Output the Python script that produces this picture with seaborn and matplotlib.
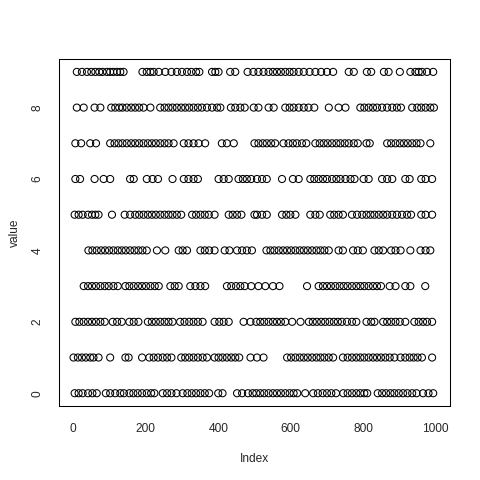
import pandas as pd
import matplotlib
matplotlib.use("Agg")
import matplotlib.pyplot as plt
import seaborn as sns

# index positions of the points on each value level
idx_9 = [10, 24, 38, 50, 61, 72, 81, 93, 102, 111, 121, 130, 139, 191, 203, 213, 222, 236, 254, 271, 286,
         300, 314, 326, 339, 348, 383, 392, 401, 433, 447, 481, 497, 511, 525, 539, 551, 562, 573, 585, 597,
         608, 622, 636, 652, 668, 684, 700, 717, 760, 774, 810, 822, 857, 870, 901, 930, 944, 953, 962, 976, 993]
idx_8 = [10, 29, 59, 75, 105, 116, 127, 136, 148, 160, 171, 182, 194, 213, 240, 252, 263, 274, 286, 298, 309,
         320, 332, 344, 355, 369, 383, 397, 406, 435, 447, 461, 473, 498, 511, 539, 553, 585, 597, 608, 622, 636,
         649, 665, 705, 732, 751, 792, 803, 815, 827, 838, 852, 866, 880, 893, 904, 935, 949, 960, 972, 985, 995]
idx_7 = [6, 22, 47, 63, 102, 114, 125, 136, 148, 160, 171, 182, 194, 206, 217, 228, 240, 252, 263, 277, 305,
         318, 332, 346, 364, 410, 424, 443, 500, 511, 523, 534, 546, 557, 580, 594, 606, 617, 631, 643, 668, 680,
         691, 702, 714, 726, 737, 749, 760, 774, 785, 809, 818, 866, 877, 889, 901, 912, 923, 935, 947, 958, 985]
idx_6 = [6, 19, 59, 84, 102, 157, 167, 203, 219, 234, 274, 305, 318, 332, 344, 401, 415, 429, 456, 468, 479,
         491, 507, 521, 534, 576, 606, 622, 654, 665, 677, 689, 700, 714, 726, 737, 751, 765, 776, 801, 815, 852,
         866, 880, 916, 928, 960, 972, 990]
idx_5 = [4, 15, 26, 41, 52, 61, 70, 107, 142, 157, 171, 182, 194, 206, 217, 228, 240, 252, 263, 274, 286, 298,
         328, 339, 351, 363, 374, 390, 429, 440, 452, 464, 500, 507, 521, 534, 576, 588, 599, 613, 654, 668, 680,
         709, 720, 732, 744, 769, 783, 797, 809, 820, 831, 843, 855, 866, 880, 893, 907, 921, 932, 960, 972, 990]
idx_4 = [42, 53, 65, 77, 88, 99, 111, 123, 134, 145, 157, 169, 180, 191, 203, 231, 254, 291, 302, 314, 351,
         363, 375, 390, 418, 431, 452, 466, 479, 493, 533, 544, 555, 567, 579, 590, 601, 613, 625, 636, 647, 659,
         671, 682, 693, 705, 732, 744, 772, 785, 799, 831, 843, 855, 877, 889, 903, 930, 958, 972, 985]
idx_3 = [29, 41, 52, 63, 75, 87, 98, 111, 123, 144, 155, 167, 179, 190, 201, 213, 225, 236, 268, 280, 291,
         323, 337, 351, 364, 424, 436, 449, 461, 473, 491, 511, 530, 551, 569, 645, 677, 689, 700, 711, 723, 735,
         746, 757, 769, 781, 792, 803, 815, 827, 838, 849, 873, 889, 916, 930, 971]
idx_2 = [6, 17, 29, 41, 52, 63, 75, 87, 109, 121, 134, 155, 167, 180, 206, 217, 228, 240, 252, 263, 274, 295,
         307, 320, 332, 344, 357, 390, 403, 415, 429, 470, 489, 505, 516, 527, 539, 551, 562, 573, 585, 604, 627,
         650, 661, 672, 684, 695, 707, 719, 730, 741, 755, 769, 781, 809, 822, 831, 855, 866, 877, 889, 901, 916,
         941, 953, 965, 976, 990]
idx_1 = [1, 13, 24, 35, 47, 56, 70, 102, 144, 153, 190, 210, 222, 234, 247, 259, 271, 298, 309, 320, 332, 344,
         357, 369, 390, 401, 412, 424, 436, 447, 458, 489, 507, 525, 590, 601, 613, 625, 636, 647, 659, 671, 682,
         693, 705, 717, 744, 757, 769, 781, 792, 803, 815, 827, 838, 849, 861, 873, 886, 903, 916, 928, 939, 950,
         962, 990]
idx_0 = [4, 15, 26, 41, 53, 65, 90, 102, 116, 130, 140, 155, 166, 178, 190, 203, 215, 224, 247, 259, 271, 285,
         302, 315, 327, 339, 351, 363, 375, 400, 412, 452, 466, 482, 495, 505, 516, 527, 539, 551, 562, 573, 585,
         597, 608, 618, 640, 662, 675, 688, 700, 712, 725, 745, 757, 769, 781, 792, 803, 811, 840, 852, 863, 875,
         886, 898, 910, 922, 935, 947, 965, 980, 993]

levels = [idx_0, idx_1, idx_2, idx_3, idx_4, idx_5, idx_6, idx_7, idx_8, idx_9]
x_ticks = [0, 200, 400, 600, 800, 1000]
y_ticks = [0, 2, 4, 6, 8]

rows = []
for val, idxs in enumerate(levels):
    for i in idxs:
        rows.append((i, val))
df = pd.DataFrame(rows, columns=["Index", "value"])

sns.set_style("white")
plt.rcParams["font.family"] = ["Liberation Sans", "DejaVu Sans"]
plt.rcParams["font.size"] = 8.6

fig = plt.figure(figsize=(4.8, 4.8), dpi=100)
ax = fig.add_axes([0.123, 0.154, 0.815, 0.723])

sns.scatterplot(data=df, x="Index", y="value", ax=ax, marker="o", s=26,
                color="black", facecolor="none", edgecolor="black", linewidth=0.75)

ax.set_xlim(-39, 1040)
ax.set_ylim(-0.36, 9.36)
ax.set_xticks(x_ticks)
ax.set_yticks(y_ticks)
ax.set_yticklabels([str(t) for t in y_ticks], rotation=90, va="center")
for sp in ax.spines.values():
    sp.set_color("black")
    sp.set_linewidth(0.75)
ax.tick_params(direction="out", length=5, width=0.75, color="black", labelsize=8.6)
ax.tick_params(axis="x", pad=7.5)
ax.tick_params(axis="y", pad=6)
ax.set_xlabel("Index", fontsize=8.6)
ax.set_ylabel("value", fontsize=8.6)
ax.xaxis.set_label_coords(0.5, -0.135)
ax.yaxis.set_label_coords(-0.097, 0.5)

fig.savefig("out.png", dpi=100)
